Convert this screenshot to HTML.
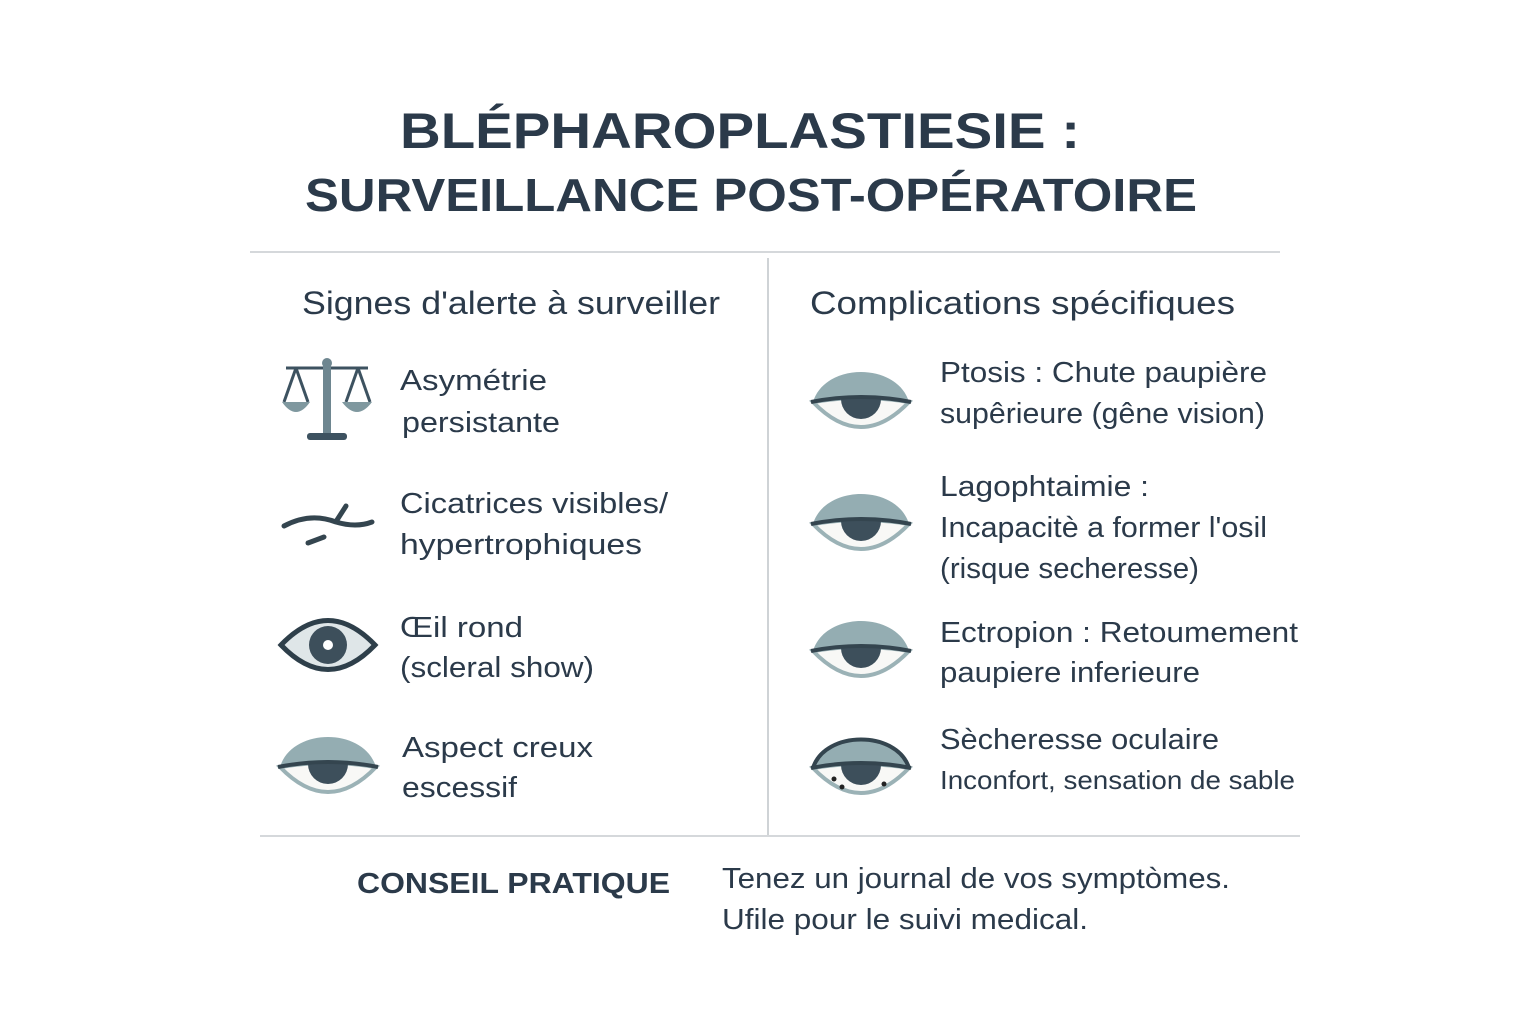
<!DOCTYPE html>
<html><head><meta charset="utf-8"><style>
body{margin:0;background:#fff;}
svg text{font-family:"Liberation Sans",sans-serif;fill:#2b3a4a;}
</style></head><body>
<svg width="1536" height="1024" viewBox="0 0 1536 1024" xmlns="http://www.w3.org/2000/svg">
<defs>
<g id="eye">
<path d="M-48,0 C-36,-40 36,-40 48,0 Q0,-8 -48,0Z" fill="#94adb2"/>
<path d="M-48,0 Q0,-8 48,0 Q0,50 -48,0Z" fill="#f8f8f6" stroke="#9bb2b6" stroke-width="4"/>
<path d="M-20,-3 A20,20 0 0 0 20,-3Z" fill="#3d4f5b"/>
<path d="M-50,0 Q0,-10 50,0" fill="none" stroke="#34454f" stroke-width="4"/>
</g>
</defs>
<rect width="1536" height="1024" fill="#fff"/>
<text x="400" y="148" font-size="50" font-weight="bold" textLength="680" lengthAdjust="spacingAndGlyphs">BLÉPHAROPLASTIESIE :</text>
<text x="305" y="211" font-size="46" font-weight="bold" textLength="892" lengthAdjust="spacingAndGlyphs">SURVEILLANCE POST-OPÉRATOIRE</text>
<line x1="250" y1="252" x2="1280" y2="252" stroke="#d5d8db" stroke-width="2"/>
<line x1="768" y1="258" x2="768" y2="836" stroke="#cfd3d6" stroke-width="2"/>
<line x1="260" y1="836" x2="1300" y2="836" stroke="#d5d8db" stroke-width="2"/>
<text x="302" y="314" font-size="32" textLength="418" lengthAdjust="spacingAndGlyphs">Signes d'alerte à surveiller</text>
<text x="810" y="314" font-size="32" textLength="425" lengthAdjust="spacingAndGlyphs">Complications spécifiques</text>
<g stroke="#3d5260" fill="none" stroke-width="3">
<line x1="286" y1="368" x2="368" y2="368"/>
<line x1="296" y1="368" x2="284" y2="402"/><line x1="296" y1="368" x2="308" y2="402"/>
<line x1="358" y1="368" x2="346" y2="402"/><line x1="358" y1="368" x2="370" y2="402"/>
</g>
<rect x="323" y="362" width="8" height="74" fill="#6e8690"/>
<circle cx="327" cy="363" r="5" fill="#6e8690"/>
<rect x="307" y="433" width="40" height="7" rx="3" fill="#3d5260"/>
<path d="M282,402 L310,402 Q296,422 282,402Z" fill="#7f989f"/>
<path d="M342,402 L372,402 Q357,422 342,402Z" fill="#7f989f"/>
<g stroke="#34454f" stroke-width="5" fill="none" stroke-linecap="round">
<path d="M284,526 Q310,512 336,522 Q356,528 372,522"/>
<path d="M337,520 L346,506"/>
<path d="M308,543 L324,537"/>
</g>
<path d="M281,645 Q328,596 375,645 Q328,694 281,645Z" fill="#dfe6e8" stroke="#2e3f4a" stroke-width="5"/>
<circle cx="328" cy="645" r="19" fill="#3d4f5b"/>
<circle cx="328" cy="645" r="5" fill="#fff"/>
<use href="#eye" x="328" y="767"/>
<use href="#eye" x="861" y="402"/>
<use href="#eye" x="861" y="524"/>
<use href="#eye" x="861" y="651"/>
<use href="#eye" x="861" y="768"/>
<path d="M813,768 C825,730 897,730 909,768" fill="none" stroke="#34454f" stroke-width="4"/>
<circle cx="834" cy="779" r="2.5" fill="#222"/><circle cx="842" cy="787" r="2.5" fill="#222"/><circle cx="884" cy="784" r="2.5" fill="#222"/>
<g font-size="29">
<text x="400" y="390" textLength="147" lengthAdjust="spacingAndGlyphs">Asymétrie</text>
<text x="402" y="432" textLength="158" lengthAdjust="spacingAndGlyphs">persistante</text>
<text x="400" y="513" textLength="268" lengthAdjust="spacingAndGlyphs">Cicatrices visibles/</text>
<text x="400" y="554" textLength="242" lengthAdjust="spacingAndGlyphs">hypertrophiques</text>
<text x="400" y="637" textLength="123" lengthAdjust="spacingAndGlyphs">Œil rond</text>
<text x="400" y="677" textLength="194" lengthAdjust="spacingAndGlyphs">(scleral show)</text>
<text x="402" y="757" textLength="191" lengthAdjust="spacingAndGlyphs">Aspect creux</text>
<text x="402" y="797" textLength="115" lengthAdjust="spacingAndGlyphs">escessif</text>
<text x="940" y="382" textLength="327" lengthAdjust="spacingAndGlyphs">Ptosis : Chute paupière</text>
<text x="940" y="423" textLength="325" lengthAdjust="spacingAndGlyphs">supêrieure (gêne vision)</text>
<text x="940" y="496" textLength="209" lengthAdjust="spacingAndGlyphs">Lagophtaimie :</text>
<text x="940" y="537" textLength="327" lengthAdjust="spacingAndGlyphs">Incapacitè a former l'osil</text>
<text x="940" y="578" textLength="259" lengthAdjust="spacingAndGlyphs">(risque secheresse)</text>
<text x="940" y="642" textLength="358" lengthAdjust="spacingAndGlyphs">Ectropion : Retoumement</text>
<text x="940" y="682" textLength="260" lengthAdjust="spacingAndGlyphs">paupiere inferieure</text>
<text x="940" y="749" textLength="279" lengthAdjust="spacingAndGlyphs">Sècheresse oculaire</text>
</g>
<text x="940" y="789" font-size="26" textLength="355" lengthAdjust="spacingAndGlyphs">Inconfort, sensation de sable</text>
<text x="357" y="893" font-size="29" font-weight="bold" textLength="313" lengthAdjust="spacingAndGlyphs">CONSEIL PRATIQUE</text>
<text x="722" y="888" font-size="29" textLength="508" lengthAdjust="spacingAndGlyphs">Tenez un journal de vos symptòmes.</text>
<text x="722" y="929" font-size="29" textLength="366" lengthAdjust="spacingAndGlyphs">Ufile pour le suivi medical.</text>
</svg>
</body></html>
